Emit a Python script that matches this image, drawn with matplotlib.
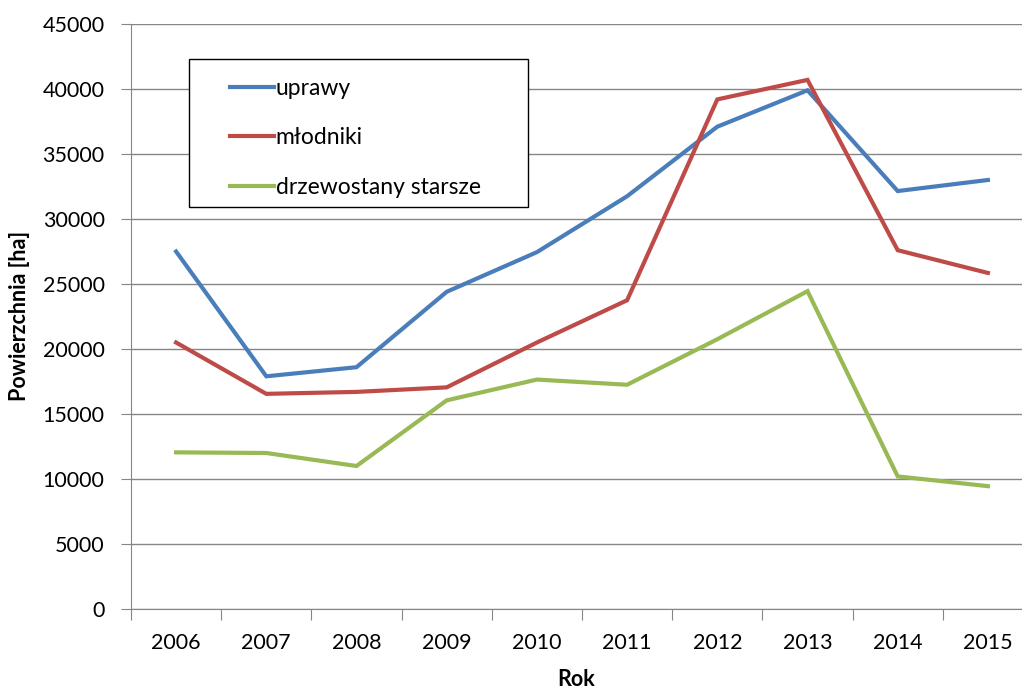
import matplotlib
matplotlib.use("Agg")
import matplotlib.pyplot as plt
from matplotlib.patches import Rectangle
import numpy as np

plt.rcParams['font.family'] = ['Lato', 'DejaVu Sans']

years = ["2006", "2007", "2008", "2009", "2010", "2011", "2012", "2013", "2014", "2015"]
uprawy = [27500, 17900, 18600, 24400, 27450, 31750, 37100, 39900, 32150, 33000]
mlodniki = [20500, 16550, 16700, 17050, 20500, 23750, 39200, 40700, 27600, 25850]
starsze = [12050, 12000, 11000, 16050, 17650, 17250, 20750, 24450, 10200, 9450]

series = [
    ("uprawy", uprawy, "#4A7EBB"),
    ("młodniki", mlodniki, "#BE4B48"),
    ("drzewostany starsze", starsze, "#98B954"),
]

GRID = "#868686"
W, H = 1022, 689

fig = plt.figure(figsize=(10.22, 6.89), dpi=100)
ax = fig.add_axes([131 / W, 1 - 609 / H, (1033 - 131) / W, (609 - 24) / H])

x = np.arange(len(years))
for name, vals, col in series:
    ax.plot(x, vals, color=col, lw=3.0, label=name, solid_joinstyle="miter")

ax.set_xlim(-0.5, len(years) - 0.5)
ax.set_ylim(0, 45000)
ax.set_yticks(np.arange(0, 45001, 5000))
ax.yaxis.grid(True, color=GRID, lw=1.0)
ax.set_axisbelow(True)

# category labels sit between the boundary ticks
ax.set_xticks(np.arange(-0.5, len(years), 1.0))
ax.set_xticklabels([])
ax.set_xticks(x, minor=True)
ax.set_xticklabels(years, minor=True)
ax.tick_params(axis="x", which="major", length=8, color=GRID, direction="out")
ax.tick_params(axis="x", which="minor", length=0, pad=17, labelsize=15.5)
ax.tick_params(axis="y", length=7, color=GRID, pad=12, labelsize=15.5)

for s in ["top", "right"]:
    ax.spines[s].set_visible(False)
for s in ["left", "bottom"]:
    ax.spines[s].set_color(GRID)

fig.text(20 / W, 1 - 316 / H, "Powierzchnia [ha]", rotation=90, ha="center", va="center",
         fontsize=15.5, fontweight="bold")
fig.text(576 / W, 1 - 680 / H, "Rok", ha="center", va="center", fontsize=15.5, fontweight="bold")

# legend: own box, entries placed inside without a frame
box = Rectangle((189 / W, 1 - 207 / H), (528 - 189) / W, (207 - 59) / H, transform=fig.transFigure,
                facecolor="white", edgecolor="black", lw=1.0, zorder=5)
fig.add_artist(box)
leg = ax.legend(loc="upper left", bbox_to_anchor=(230 / W, 1 - 78 / H), bbox_transform=fig.transFigure,
                borderaxespad=0, borderpad=0, fontsize=16.5, handlelength=1.9, handletextpad=0.1,
                labelspacing=1.24, frameon=False)
leg.set_zorder(6)
fig.legends.append(ax.legend_)
ax.legend_ = None

fig.savefig("out.png", dpi=100)
